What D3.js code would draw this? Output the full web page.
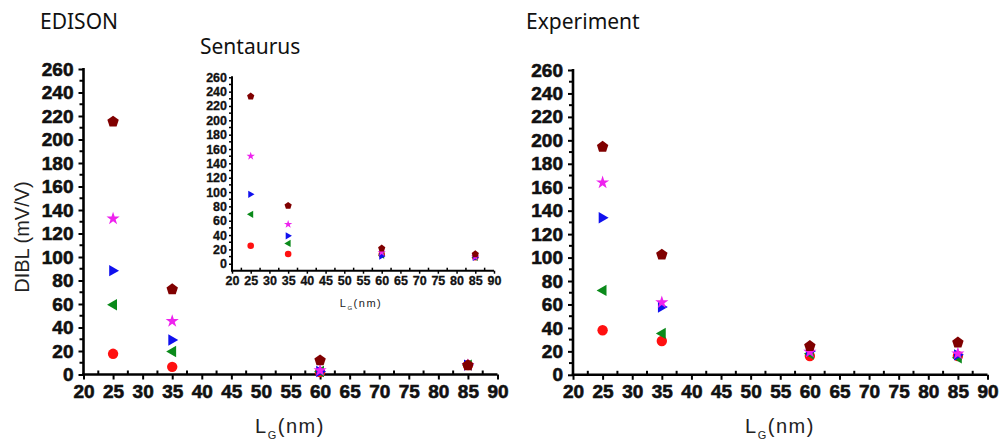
<!DOCTYPE html>
<html>
<head>
<meta charset="utf-8">
<script src="https://cdn.jsdelivr.net/npm/d3@7"></script>
<style>
  html, body { margin: 0; padding: 0; background: #fff; }
  svg { display: block; }
</style>
</head>
<body>
<svg id="chart" width="999" height="447"></svg>
<script>
// ---------- DATA ----------
const lengths = [25, 35, 60, 85];           // L_G (nm)
const xTicks = [20, 25, 30, 35, 40, 45, 50, 55, 60, 65, 70, 75, 80, 85, 90];
const yTicks = [0, 20, 40, 60, 80, 100, 120, 140, 160, 180, 200, 220, 240, 260];

// series order: red circle, green left-triangle, blue right-triangle, magenta star, maroon pentagon
const seriesNames = ["circle", "leftTri", "rightTri", "star", "pentagon"];
const seriesColors = ["#ff1010", "#0a8a1a", "#1010ee", "#ee22ee", "#800000"];

// EDISON
const edisonCircle   = [17.6, 6.5, 2.0, 8.0];
const edisonLeftTri  = [59.4, 19.6, 2.5, 8.0];
const edisonRightTri = [88.4, 29.3, 2.5, 8.0];
const edisonStar     = [132.7, 45.4, 3.4, 8.0];
const edisonPentagon = [215.7, 73.0, 12.5, 8.3];

// Sentaurus (inset)
const sentCircle   = [25.0, 13.5, 13.0, 9.0];
const sentLeftTri  = [68.9, 28.4, 12.0, 9.0];
const sentRightTri = [96.8, 39.0, 10.7, 9.0];
const sentStar     = [150.0, 55.0, 15.9, 9.5];
const sentPentagon = [233.9, 81.5, 21.9, 14.0];

// Experiment
const expCircle   = [38.0, 28.8, 16.0, 16.0];
const expLeftTri  = [72.0, 35.3, 18.0, 14.5];
const expRightTri = [134.0, 57.8, 20.0, 17.0];
const expStar     = [164.0, 61.8, 19.6, 18.0];
const expPentagon = [195.0, 103.0, 25.0, 28.0];

// ---------- DRAWING ----------
const svg = d3.select("#chart");
const tickFamily = "Arial, 'Liberation Sans', Helvetica, sans-serif";

function markerPath(kind, r) {
  if (kind === "circle") {
    return d3.symbol(d3.symbolCircle, Math.PI * r * r * 0.75)();
  }
  if (kind === "star") {
    return d3.symbol(d3.symbolStar, r * r * 1.5)();
  }
  if (kind === "pentagon") {
    const pts = d3.range(5).map(i => {
      const a = -Math.PI / 2 + i * 2 * Math.PI / 5;
      return [r * Math.cos(a), r * Math.sin(a) + r * 0.1];
    });
    return d3.line()(pts) + "Z";
  }
  if (kind === "rightTri") {
    return d3.line()([[-r * 0.65, -r * 0.95], [r * 1.0, 0], [-r * 0.65, r * 0.95]]) + "Z";
  }
  if (kind === "leftTri") {
    return d3.line()([[r * 0.65, -r * 0.95], [-r * 1.0, 0], [r * 0.65, r * 0.95]]) + "Z";
  }
}

function panel(cfg) {
  const g = svg.append("g");
  const x = d3.scaleLinear().domain([20, 90]).range([cfg.x0, cfg.x1]);
  const y = d3.scaleLinear().domain(cfg.yDomain).range([cfg.yBottom, cfg.yTop]);

  const xMinor = d3.range(22.5, 90, 5);
  const yMinor = d3.range(10, 260, 20);

  const xAxis = d3.axisBottom(x).tickValues(xTicks).tickSize(cfg.tickLen).tickPadding(cfg.tickPad).tickFormat(d3.format("d"));
  const yAxis = d3.axisLeft(y).tickValues(yTicks).tickSize(cfg.tickLen).tickPadding(cfg.tickPad).tickFormat(d3.format("d"));

  const gx = g.append("g").attr("transform", `translate(0,${cfg.yBottom})`).call(xAxis);
  const gy = g.append("g").attr("transform", `translate(${cfg.x0},0)`).call(yAxis);

  [gx, gy].forEach(a => {
    a.attr("font-family", tickFamily).attr("font-size", cfg.tickFont).attr("font-weight", "bold");
    a.select(".domain").attr("stroke", "#000").attr("stroke-width", cfg.axisW);
    a.selectAll(".tick line").attr("stroke", "#000").attr("stroke-width", cfg.tickW);
    a.selectAll(".tick text").attr("fill", "#111")
      .attr("stroke", "#111").attr("stroke-width", cfg.textStroke);
  });
  gx.select(".domain").attr("d", `M${cfg.x0 - cfg.axisW / 2},0H${cfg.x1}`);
  gy.select(".domain").attr("d", `M0,${cfg.yBottom}V${y(260) - 1}`);

  g.append("g").selectAll("line").data(xMinor).join("line")
    .attr("x1", d => x(d)).attr("x2", d => x(d))
    .attr("y1", cfg.yBottom).attr("y2", cfg.yBottom - cfg.minorLen)
    .attr("stroke", "#000").attr("stroke-width", cfg.tickW);
  g.append("g").selectAll("line").data(yMinor).join("line")
    .attr("x1", cfg.x0).attr("x2", cfg.x0 - cfg.minorLen)
    .attr("y1", d => y(d)).attr("y2", d => y(d))
    .attr("stroke", "#000").attr("stroke-width", cfg.tickW);

  cfg.series.forEach((vals, si) => {
    g.append("g").selectAll("path").data(vals).join("path")
      .attr("transform", (d, i) => `translate(${x(lengths[i])},${y(d)})`)
      .attr("d", markerPath(seriesNames[si], cfg.markerR))
      .attr("fill", seriesColors[si]);
  });

  const t = g.append("text")
    .attr("x", cfg.xTitleX).attr("y", cfg.xTitleY)
    .attr("text-anchor", "middle")
    .attr("font-family", tickFamily)
    .attr("font-size", cfg.titleFont)
    .attr("letter-spacing", "1.5")
    .attr("fill", "#222");
  t.append("tspan").text("L");
  t.append("tspan").text("G").attr("dy", cfg.titleFont * 0.3)
    .attr("font-size", cfg.titleFont * 0.55);
  t.append("tspan").text("(nm)").attr("dy", -cfg.titleFont * 0.3);
  return g;
}

panel({
  x0: 83.5, x1: 497.5, yTop: 69, yBottom: 374.5, yDomain: [0, 260],
  tickLen: 5, minorLen: 4, tickPad: 5, axisW: 2.6, tickW: 2, tickFont: 19, textStroke: 0.6,
  markerR: 6, titleFont: 20, xTitleX: 290, xTitleY: 433,
  series: [edisonCircle, edisonLeftTri, edisonRightTri, edisonStar, edisonPentagon]
});

panel({
  x0: 573, x1: 987.5, yTop: 70, yBottom: 374.8, yDomain: [0, 260],
  tickLen: 5, minorLen: 4, tickPad: 5, axisW: 2.6, tickW: 2, tickFont: 19, textStroke: 0.6,
  markerR: 6, titleFont: 20, xTitleX: 780, xTitleY: 433,
  series: [expCircle, expLeftTri, expRightTri, expStar, expPentagon]
});

panel({
  x0: 232, x1: 494, yTop: 77.3, yBottom: 270.7, yDomain: [-9.7, 260],
  tickLen: 3, minorLen: 3, tickPad: 2, axisW: 2, tickW: 1.5, tickFont: 12.5, textStroke: 0.3,
  markerR: 3.8, titleFont: 11, xTitleX: 361, xTitleY: 307,
  series: [sentCircle, sentLeftTri, sentRightTri, sentStar, sentPentagon]
});

svg.append("text")
  .attr("transform", "translate(29,237) rotate(-90)")
  .attr("text-anchor", "middle")
  .attr("font-family", tickFamily)
  .attr("font-size", 20)
  .attr("fill", "#222")
  .text("DIBL (mV/V)");

const titleFamily = "'Noto Sans', 'Open Sans', sans-serif";
[["EDISON", 40, 29], ["Sentaurus", 200, 54], ["Experiment", 526, 29]].forEach(([s, tx, ty]) => {
  svg.append("text").attr("x", tx).attr("y", ty)
    .attr("font-family", titleFamily).attr("font-size", 21)
    .attr("fill", "#111").text(s);
});
</script>
</body>
</html>
